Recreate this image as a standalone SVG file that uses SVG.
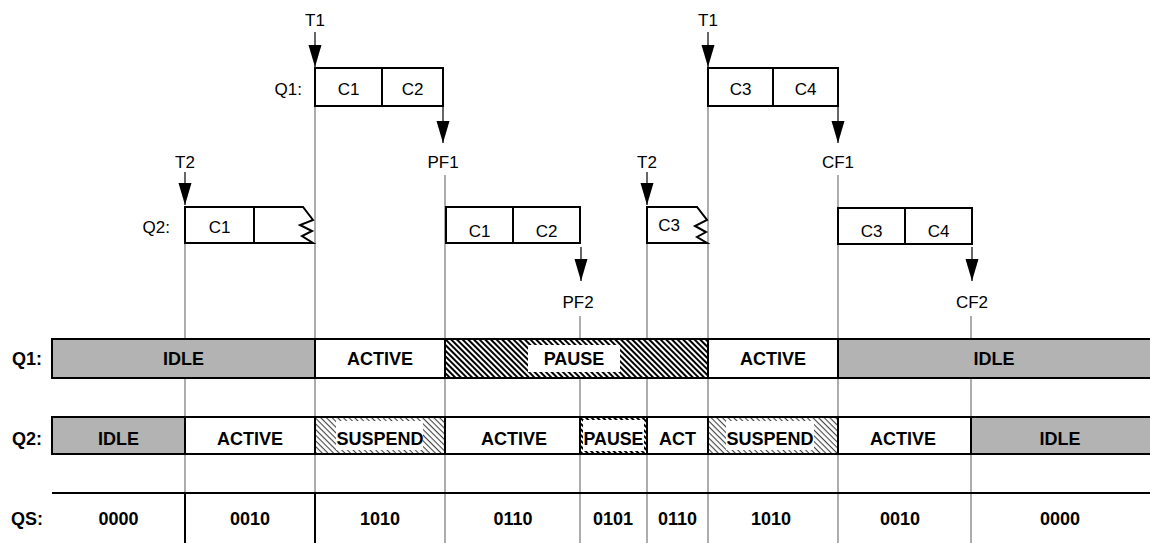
<svg xmlns="http://www.w3.org/2000/svg" width="1150" height="543" viewBox="0 0 1150 543">
<style>
  .t { font-family: "Liberation Sans", Arial, sans-serif; font-size: 17px; fill: #000; text-anchor: middle; }
  .b { font-family: "Liberation Sans", Arial, sans-serif; font-size: 18px; font-weight: bold; fill: #000; text-anchor: middle; }
  .box { fill: #fff; stroke: #000; stroke-width: 2; }
  .div { stroke: #000; stroke-width: 2; fill: none; }
  .grid { stroke: #808080; stroke-width: 1.3; fill: none; }
  .arr { stroke: #000; stroke-width: 1.2; fill: none; marker-end: url(#ah); }
  .idle { fill: #b3b3b3; }
  .wh { fill: #fff; }
</style>
<defs>
  <marker id="ah" markerUnits="userSpaceOnUse" markerWidth="22" markerHeight="14" viewBox="0 -7 22 14" refX="22" refY="0" orient="auto">
    <path d="M0,-6.5 L22,0 L0,6.5 z" fill="#000"/>
  </marker>
  <pattern id="hDark" patternUnits="userSpaceOnUse" width="4" height="4" patternTransform="rotate(45)">
    <rect width="4" height="4" fill="#fff"/>
    <rect y="0" width="4" height="2" fill="#000"/>
  </pattern>
  <pattern id="hLight" patternUnits="userSpaceOnUse" width="4" height="4" patternTransform="rotate(45)">
    <rect width="4" height="4" fill="#fff"/>
    <rect y="0" width="4" height="1.1" fill="#444"/>
  </pattern>
</defs>

<!-- timeline marker lines -->
<g id="connectors">
  <line class="grid" x1="185" y1="243" x2="185" y2="493"/>
  <line class="grid" x1="315" y1="106" x2="315" y2="493"/>
  <line class="grid" x1="445" y1="175" x2="445" y2="543"/>
  <line class="grid" x1="580" y1="316" x2="580" y2="543"/>
  <line class="grid" x1="647" y1="243" x2="647" y2="543"/>
  <line class="grid" x1="708" y1="106" x2="708" y2="543"/>
  <line class="grid" x1="838" y1="175" x2="838" y2="543"/>
  <line class="grid" x1="971" y1="316" x2="971" y2="543"/>
  <line class="div" x1="185" y1="493" x2="185" y2="543"/>
  <line class="div" x1="315" y1="493" x2="315" y2="543"/>
  <!-- arrows -->
  <line class="arr" x1="315" y1="32" x2="315" y2="67"/>
  <line class="arr" x1="708" y1="32" x2="708" y2="67"/>
  <line class="arr" x1="443" y1="106" x2="443" y2="143"/>
  <line class="arr" x1="838" y1="106" x2="838" y2="143"/>
  <line class="arr" x1="185" y1="172" x2="185" y2="205"/>
  <line class="arr" x1="647" y1="172" x2="647" y2="205"/>
  <line class="arr" x1="581" y1="247" x2="581" y2="281"/>
  <line class="arr" x1="972" y1="247" x2="972" y2="281"/>
</g>

<!-- event labels -->
<g id="labels">
  <text class="t" x="315" y="26">T1</text>
  <text class="t" x="708" y="26">T1</text>
  <text class="t" x="443" y="168">PF1</text>
  <text class="t" x="838" y="168">CF1</text>
  <text class="t" x="185" y="168">T2</text>
  <text class="t" x="647" y="168">T2</text>
  <text class="t" x="578" y="308">PF2</text>
  <text class="t" x="972" y="308">CF2</text>
  <text class="t" x="302" y="95" style="text-anchor:end">Q1:</text>
  <text class="t" x="170" y="233" style="text-anchor:end">Q2:</text>
</g>

<!-- Q1 command boxes -->
<g id="q1-box-1">
  <rect class="box" x="315" y="68" width="128" height="38"/>
  <line class="div" x1="382" y1="68" x2="382" y2="106"/>
  <text class="t" x="348.5" y="95">C1</text>
  <text class="t" x="412.5" y="95">C2</text>
</g>
<g id="q1-box-2">
  <rect class="box" x="708" y="68" width="130" height="38"/>
  <line class="div" x1="773" y1="68" x2="773" y2="106"/>
  <text class="t" x="740.5" y="95">C3</text>
  <text class="t" x="805.5" y="95">C4</text>
</g>

<!-- Q2 command boxes -->
<g id="q2-box-1">
  <path class="box" d="M185,207 L303,207 L313,220 L300,225 L312,231 L302,236 L313,243 L185,243 z"/>
  <line class="div" x1="254" y1="207" x2="254" y2="243"/>
  <text class="t" x="219.5" y="233">C1</text>
</g>
<g id="q2-box-2">
  <rect class="box" x="446" y="207" width="134" height="36"/>
  <line class="div" x1="513" y1="207" x2="513" y2="243"/>
  <text class="t" x="479.5" y="237">C1</text>
  <text class="t" x="546.5" y="237">C2</text>
</g>
<g id="q2-box-3">
  <path class="box" d="M647,207 L697,207 L707,220 L695,226 L706,232 L697,237 L707,243 L647,243 z"/>
  <text class="t" x="669" y="231">C3</text>
</g>
<g id="q2-box-4">
  <rect class="box" x="838" y="208" width="134" height="36"/>
  <line class="div" x1="905" y1="208" x2="905" y2="244"/>
  <text class="t" x="871.5" y="237">C3</text>
  <text class="t" x="938.5" y="237">C4</text>
</g>

<!-- Q1 state row -->
<g id="row-q1">
  <rect class="idle" x="52" y="339" width="263" height="39"/>
  <rect class="wh" x="315" y="339" width="130" height="39"/>
  <rect fill="url(#hDark)" x="445" y="339" width="263" height="39"/>
  <rect class="wh" x="528" y="345" width="92" height="27"/>
  <rect class="wh" x="708" y="339" width="130" height="39"/>
  <rect class="idle" x="838" y="339" width="314" height="39"/>
  <rect x="52" y="339" width="1100" height="39" fill="none" stroke="#000" stroke-width="2"/>
  <line class="div" x1="315" y1="339" x2="315" y2="378"/>
  <line class="div" x1="445" y1="339" x2="445" y2="378"/>
  <line class="div" x1="708" y1="339" x2="708" y2="378"/>
  <line class="div" x1="838" y1="339" x2="838" y2="378"/>
  <text class="b" x="27" y="365">Q1:</text>
  <text class="b" x="183.5" y="365">IDLE</text>
  <text class="b" x="380" y="365">ACTIVE</text>
  <text class="b" x="574" y="365">PAUSE</text>
  <text class="b" x="773" y="365">ACTIVE</text>
  <text class="b" x="994" y="365">IDLE</text>
</g>

<!-- Q2 state row -->
<g id="row-q2">
  <rect class="idle" x="52" y="417" width="133" height="37"/>
  <rect class="wh" x="185" y="417" width="130" height="37"/>
  <rect fill="url(#hLight)" x="315" y="417" width="130" height="37"/>
  <rect class="wh" x="336" y="421" width="87" height="29"/>
  <rect class="wh" x="445" y="417" width="135" height="37"/>
  <rect fill="url(#hDark)" x="580" y="417" width="67" height="37"/>
  <rect class="wh" x="583" y="420" width="61" height="31"/>
  <rect class="wh" x="647" y="417" width="61" height="37"/>
  <rect fill="url(#hLight)" x="708" y="417" width="130" height="37"/>
  <rect class="wh" x="726" y="421" width="88" height="29"/>
  <rect class="wh" x="838" y="417" width="133" height="37"/>
  <rect class="idle" x="971" y="417" width="181" height="37"/>
  <rect x="52" y="417" width="1100" height="37" fill="none" stroke="#000" stroke-width="2"/>
  <line class="div" x1="185" y1="417" x2="185" y2="454"/>
  <line class="div" x1="315" y1="417" x2="315" y2="454"/>
  <line class="div" x1="445" y1="417" x2="445" y2="454"/>
  <line class="div" x1="580" y1="417" x2="580" y2="454"/>
  <line class="div" x1="647" y1="417" x2="647" y2="454"/>
  <line class="div" x1="708" y1="417" x2="708" y2="454"/>
  <line class="div" x1="838" y1="417" x2="838" y2="454"/>
  <line class="div" x1="971" y1="417" x2="971" y2="454"/>
  <text class="b" x="27" y="445">Q2:</text>
  <text class="b" x="118.5" y="445">IDLE</text>
  <text class="b" x="250" y="445">ACTIVE</text>
  <text class="b" x="380" y="445">SUSPEND</text>
  <text class="b" x="514" y="445">ACTIVE</text>
  <text class="b" x="613.5" y="445" textLength="60" lengthAdjust="spacingAndGlyphs">PAUSE</text>
  <text class="b" x="677.5" y="445">ACT</text>
  <text class="b" x="770" y="445">SUSPEND</text>
  <text class="b" x="903" y="445">ACTIVE</text>
  <text class="b" x="1060" y="445">IDLE</text>
</g>

<!-- QS row -->
<g id="row-qs">
  <line class="div" x1="52" y1="493" x2="1150" y2="493"/>
  <text class="b" x="27" y="525">QS:</text>
  <text class="b" x="118.5" y="525">0000</text>
  <text class="b" x="250" y="525">0010</text>
  <text class="b" x="380" y="525">1010</text>
  <text class="b" x="513" y="525">0110</text>
  <text class="b" x="613" y="525">0101</text>
  <text class="b" x="677.5" y="525">0110</text>
  <text class="b" x="771" y="525">1010</text>
  <text class="b" x="900" y="525">0010</text>
  <text class="b" x="1060" y="525">0000</text>
</g>
</svg>
